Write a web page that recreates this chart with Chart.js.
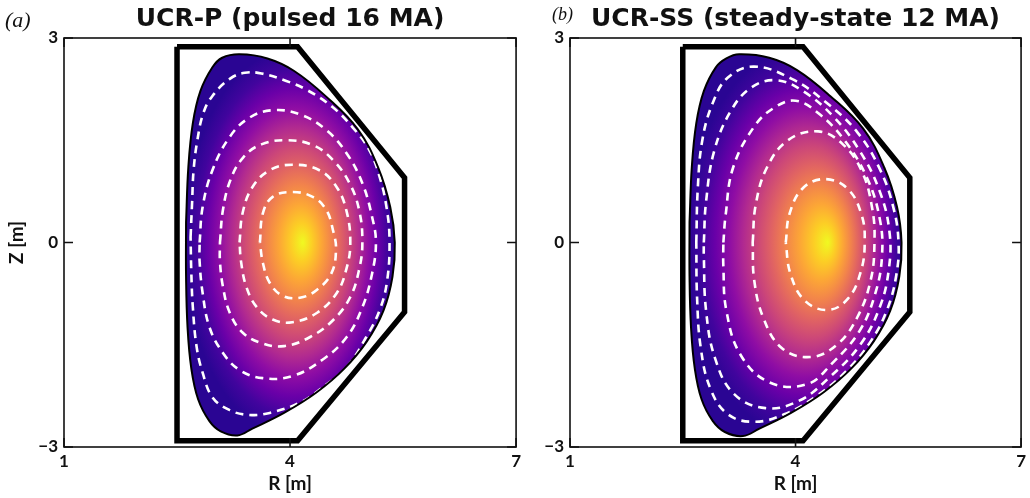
<html>
  <head>
    <title>UCR-P and UCR-SS equilibria</title>
    <script src="https://cdn.jsdelivr.net/npm/chart.js@4.4.1/dist/chart.umd.min.js"></script>
    <style>
      body { margin: 0; background: #fff; }
      .panel { position: absolute; top: 0; height: 498px; }
    </style>
  </head>
  <body>
    <div class="panel" style="left:0; width:525px"><canvas id="ucr-p"></canvas></div>
    <div class="panel" style="left:520px; width:510px"><canvas id="ucr-ss"></canvas></div>
    <script>
      // vacuum vessel outline, R and Z in metres
      var wallR = [2.50, 4.10, 5.52, 5.52, 4.10, 2.50, 2.50];
      var wallZ = [2.87, 2.87, 0.95, -1.02, -2.91, -2.91, 2.87];

      // ---- UCR-P (pulsed 16 MA) ----
      var axisP = 4.17;
      var lcfsPR = [2.62, 2.65, 2.71, 2.81, 2.97, 3.10, 3.33, 3.70, 4.05, 4.48, 4.90, 5.17, 5.33, 5.39, 5.36, 5.24, 5.02, 4.72, 4.35, 3.92, 3.50, 3.30, 3.08, 2.93, 2.78, 2.69, 2.64, 2.62, 2.62];
      var lcfsPZ = [0.30, 1.10, 1.75, 2.22, 2.57, 2.71, 2.76, 2.70, 2.52, 2.14, 1.66, 1.10, 0.52, 0.00, -0.50, -1.00, -1.45, -1.85, -2.20, -2.50, -2.73, -2.83, -2.77, -2.62, -2.30, -1.85, -1.25, -0.50, 0.30];
      var psiP1R = [3.60, 3.64, 3.77, 4.03, 4.30, 4.48, 4.57, 4.61, 4.55, 4.35, 4.13, 3.90, 3.73, 3.64, 3.60];
      var psiP1Z = [0.00, 0.43, 0.67, 0.74, 0.67, 0.48, 0.18, -0.10, -0.45, -0.70, -0.81, -0.78, -0.59, -0.30, 0.00];
      var psiP2R = [3.33, 3.37, 3.50, 3.73, 4.03, 4.39, 4.62, 4.75, 4.80, 4.75, 4.62, 4.36, 4.03, 3.77, 3.56, 3.42, 3.35, 3.33];
      var psiP2Z = [0.00, 0.43, 0.81, 1.06, 1.14, 1.06, 0.81, 0.46, 0.00, -0.38, -0.74, -1.03, -1.17, -1.13, -0.95, -0.65, -0.28, 0.00];
      var psiP3R = [3.07, 3.11, 3.21, 3.38, 3.62, 3.95, 4.30, 4.57, 4.79, 4.92, 4.96, 4.92, 4.80, 4.57, 4.26, 3.92, 3.63, 3.37, 3.20, 3.11, 3.07, 3.07];
      var psiP3Z = [0.00, 0.48, 0.92, 1.25, 1.44, 1.50, 1.43, 1.21, 0.87, 0.46, 0.00, -0.38, -0.80, -1.14, -1.39, -1.52, -1.48, -1.32, -1.03, -0.65, -0.28, 0.00];
      var psiP4R = [2.80, 2.84, 2.97, 3.20, 3.46, 3.77, 4.13, 4.48, 4.75, 4.96, 5.09, 5.14, 5.09, 4.96, 4.75, 4.43, 4.03, 3.64, 3.33, 3.11, 2.93, 2.84, 2.80, 2.80];
      var psiP4Z = [0.00, 0.52, 1.06, 1.55, 1.83, 1.94, 1.88, 1.65, 1.31, 0.87, 0.37, 0.00, -0.45, -0.95, -1.39, -1.72, -1.96, -1.99, -1.87, -1.62, -1.24, -0.74, -0.28, 0.00];
      var psiP5R = [2.68, 2.70, 2.72, 2.77, 2.85, 2.97, 3.20, 3.40, 3.62, 3.95, 4.22, 4.56, 4.83, 5.05, 5.19, 5.28, 5.32, 5.29, 5.19, 5.01, 4.75, 4.39, 4.13, 3.73, 3.46, 3.20, 2.97, 2.84, 2.76, 2.71, 2.69, 2.68];
      var psiP5Z = [0.08, 0.58, 1.06, 1.50, 1.90, 2.15, 2.40, 2.49, 2.48, 2.37, 2.24, 1.99, 1.69, 1.36, 0.96, 0.52, 0.05, -0.55, -0.99, -1.39, -1.83, -2.16, -2.35, -2.50, -2.53, -2.46, -2.27, -1.91, -1.53, -0.95, -0.45, 0.08];

      // ---- UCR-SS (steady-state 12 MA) ----
      var axisSS = 4.43;
      var lcfsSR = [2.59, 2.62, 2.68, 2.78, 2.94, 3.08, 3.25, 3.65, 4.02, 4.46, 4.90, 5.18, 5.35, 5.41, 5.38, 5.26, 5.04, 4.74, 4.37, 3.94, 3.52, 3.30, 3.06, 2.90, 2.75, 2.66, 2.61, 2.59, 2.59];
      var lcfsSZ = [0.30, 1.10, 1.75, 2.22, 2.57, 2.70, 2.76, 2.71, 2.53, 2.15, 1.67, 1.10, 0.52, 0.00, -0.50, -1.00, -1.45, -1.85, -2.20, -2.50, -2.73, -2.84, -2.78, -2.62, -2.30, -1.85, -1.25, -0.50, 0.30];
      var psiS1R = [3.87, 3.92, 4.10, 4.40, 4.70, 4.88, 4.92, 4.87, 4.70, 4.43, 4.12, 3.93, 3.87];
      var psiS1Z = [0.00, 0.42, 0.80, 0.93, 0.78, 0.40, 0.00, -0.42, -0.82, -0.99, -0.85, -0.45, 0.00];
      var psiS2R = [3.43, 3.47, 3.62, 3.90, 4.30, 4.62, 4.88, 5.02, 5.05, 5.00, 4.82, 4.55, 4.20, 3.82, 3.57, 3.45, 3.43];
      var psiS2Z = [0.00, 0.55, 1.10, 1.50, 1.63, 1.45, 1.05, 0.50, 0.00, -0.55, -1.10, -1.50, -1.68, -1.55, -1.10, -0.55, 0.00];
      var psiS3R = [3.04, 3.07, 3.17, 3.45, 3.72, 4.00, 4.30, 4.65, 4.95, 5.12, 5.15, 5.06, 4.85, 4.48, 4.15, 3.65, 3.27, 3.08, 3.04, 3.04];
      var psiS3Z = [0.00, 0.40, 1.10, 1.70, 1.98, 2.08, 1.90, 1.50, 0.95, 0.35, -0.20, -0.75, -1.30, -1.78, -2.08, -2.05, -1.65, -1.00, -0.35, 0.00];
      var psiS4R = [2.78, 2.81, 2.92, 3.15, 3.42, 3.75, 4.10, 4.50, 4.85, 5.12, 5.25, 5.24, 5.12, 4.86, 4.45, 4.05, 3.60, 3.18, 2.93, 2.81, 2.78, 2.78];
      var psiS4Z = [0.00, 0.60, 1.35, 1.95, 2.28, 2.38, 2.22, 1.85, 1.35, 0.75, 0.15, -0.40, -0.95, -1.50, -1.98, -2.32, -2.43, -2.22, -1.70, -1.00, -0.20, 0.00];
      var psiS5R = [2.68, 2.70, 2.76, 2.90, 3.10, 3.45, 3.95, 4.40, 4.82, 5.12, 5.30, 5.37, 5.34, 5.22, 5.00, 4.68, 4.28, 3.85, 3.45, 3.10, 2.87, 2.74, 2.69, 2.68];
      var psiS5Z = [0.00, 0.80, 1.50, 2.05, 2.42, 2.58, 2.40, 2.06, 1.62, 1.08, 0.52, 0.00, -0.48, -0.98, -1.45, -1.88, -2.25, -2.52, -2.63, -2.52, -2.15, -1.55, -0.80, 0.00];

      // plasma colormap, magnetic axis (0) to separatrix (1)
      var plasmaStops = ['#f0f921', '#fcce25', '#fca636', '#f2844b', '#e16462', '#cc4778', '#b12a90', '#8f0da4', '#6a00a8', '#41049d', '#2a0593'];

      function pts(rs, zs) {
        return rs.map(function(r, i) { return {x: r, y: zs[i]}; });
      }

      // elliptical gradient, clipped by the filled separatrix
      function plasmaFill(axisR, rs, zs) {
        var rMin = Math.min.apply(null, rs), rMax = Math.max.apply(null, rs);
        var zMax = Math.max.apply(null, zs);
        return function(context) {
          var chart = context.chart;
          if (!chart.chartArea) return 'rgba(0,0,0,0)';
          var xs = chart.scales.x, ys = chart.scales.y;
          var cx = xs.getPixelForValue((rMin + rMax) / 2), cy = ys.getPixelForValue(0);
          var rx = xs.getPixelForValue(rMax) - cx, ry = cy - ys.getPixelForValue(zMax);
          var ax = (xs.getPixelForValue(axisR) - cx) / rx;
          var off = document.createElement('canvas');
          off.width = chart.width; off.height = chart.height;
          var g = off.getContext('2d');
          g.translate(cx, cy); g.scale(rx, ry);
          var grad = g.createRadialGradient(ax, 0, 0, 0, 0, 1.02);
          plasmaStops.forEach(function(c, i) { grad.addColorStop(i / (plasmaStops.length - 1), c); });
          g.fillStyle = grad;
          g.fillRect(-5, -5, 10, 10);
          return chart.ctx.createPattern(off, 'no-repeat');
        };
      }

      // box frame, inward ticks and the panel letter
      var frame = {
        id: 'frame',
        afterDatasetsDraw: function(chart, args, opts) {
          var a = chart.chartArea, c = chart.ctx, xs = chart.scales.x, ys = chart.scales.y;
          c.save();
          c.strokeStyle = '#111'; c.lineWidth = 1.6;
          c.strokeRect(a.left, a.top, a.right - a.left, a.bottom - a.top);
          c.beginPath();
          xs.ticks.forEach(function(t) {
            var px = xs.getPixelForValue(t.value);
            c.moveTo(px, a.top); c.lineTo(px, a.top + 9);
            c.moveTo(px, a.bottom); c.lineTo(px, a.bottom - 9);
          });
          ys.ticks.forEach(function(t) {
            var py = ys.getPixelForValue(t.value);
            c.moveTo(a.left, py); c.lineTo(a.left + 9, py);
            c.moveTo(a.right, py); c.lineTo(a.right - 9, py);
          });
          c.stroke();
          c.fillStyle = '#111';
          c.font = 'italic ' + opts.size + 'px "Liberation Serif"';
          c.fillText(opts.tag, opts.x, opts.y);
          c.restore();
        }
      };

      function makeChart(id, title, tag, axisR, lcfsR, lcfsZ, surfaces, withZTitle) {
        var datasets = [
          {
            label: 'vessel', data: pts(wallR, wallZ), showLine: true, order: 1,
            borderColor: '#000', borderWidth: 5.5, borderJoinStyle: 'miter', pointRadius: 0, fill: false
          },
          {
            label: 'separatrix', data: pts(lcfsR, lcfsZ), showLine: true, order: 2, tension: 0.4,
            borderColor: '#000', borderWidth: 2, pointRadius: 0, fill: false
          }
        ];
        surfaces.forEach(function(s) {
          datasets.push({
            label: 'flux surface', data: pts(s[0], s[1]), showLine: true, order: 3, tension: 0.4,
            borderColor: '#fff', borderWidth: 2.6, borderDash: [8, 6], pointRadius: 0, fill: false
          });
        });
        datasets.push({
          label: 'psi', data: pts(lcfsR, lcfsZ), showLine: true, order: 9, tension: 0.4,
          borderWidth: 0, pointRadius: 0, fill: 'shape',
          backgroundColor: plasmaFill(axisR, lcfsR, lcfsZ)
        });

        var tickFont = {family: 'Lato', weight: 'bold', size: 17};
        return new Chart(id, {
          type: 'scatter',
          data: {datasets: datasets},
          plugins: [frame],
          options: {
            responsive: true,
            maintainAspectRatio: false,
            animation: false,
            layout: {padding: {left: 0, right: 8, top: 0, bottom: 0}},
            plugins: {
              legend: {display: false},
              tooltip: {enabled: false},
              title: {
                display: true, text: title, color: '#111', fullSize: false,
                font: {family: 'DejaVu Sans', weight: 'bold', size: 25},
                padding: {top: 4, bottom: 4}
              },
              frame: tag
            },
            scales: {
              x: {
                type: 'linear', min: 1, max: 7,
                ticks: {stepSize: 3, color: '#111', font: tickFont, padding: 4},
                grid: {display: false, drawTicks: false},
                border: {display: false},
                title: {
                  display: true, text: 'R [m]', color: '#111',
                  font: {family: 'Lato', weight: 'bold', size: 19}, padding: {top: 0, bottom: 3}
                },
                afterFit: function(s) { s.height = 51; }
              },
              y: {
                type: 'linear', min: -3, max: 3,
                ticks: {
                  stepSize: 3, color: '#111', font: tickFont, padding: 6,
                  callback: function(v) { return String(v).replace('-', '\u2212'); }
                },
                grid: {display: false, drawTicks: false},
                border: {display: false},
                title: {
                  display: withZTitle, text: 'Z [m]', color: '#111',
                  font: {family: 'Lato', weight: 'bold', size: 19}, padding: {top: 5, bottom: 0}
                },
                afterFit: function(s) { s.width = withZTitle ? 64 : 50; }
              }
            }
          }
        });
      }

      makeChart('ucr-p', 'UCR-P (pulsed 16 MA)', {tag: '(a)', x: 5, y: 27, size: 22}, axisP, lcfsPR, lcfsPZ,
        [[psiP1R, psiP1Z], [psiP2R, psiP2Z], [psiP3R, psiP3Z], [psiP4R, psiP4Z], [psiP5R, psiP5Z]], true);
      makeChart('ucr-ss', 'UCR-SS (steady-state 12 MA)', {tag: '(b)', x: 32, y: 20, size: 18}, axisSS, lcfsSR, lcfsSZ,
        [[psiS1R, psiS1Z], [psiS2R, psiS2Z], [psiS3R, psiS3Z], [psiS4R, psiS4Z], [psiS5R, psiS5Z]], false);
    </script>
  </body>
</html>
